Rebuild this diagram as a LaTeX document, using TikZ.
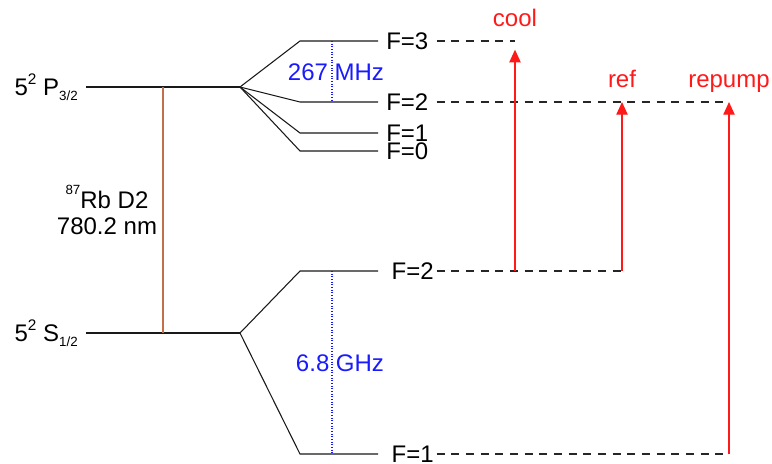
\documentclass[tikz,border=0pt]{standalone}
\usepackage{fontspec}
\setmainfont{Liberation Sans}
\usepackage{tikz}
\usetikzlibrary{arrows.meta,positioning}
\definecolor{LineBrown}{HTML}{C0704A}
\definecolor{PumpRed}{HTML}{FF1A1A}
\definecolor{SplitBlue}{HTML}{1A1AFF}
\newcommand{\tinyidx}[1]{{\fontsize{10}{10}\selectfont #1}}
\newcommand{\supidx}[1]{\raisebox{0.85ex}{\fontsize{11.5}{12}\selectfont #1}}

\begin{document}
\begin{tikzpicture}[x=0.75pt, y=-0.75pt,
  level/.style={black!90, line width=0.8pt},
  lbl/.style={font=\fontsize{18}{19}\selectfont, inner sep=1pt},
  flbl/.style={lbl, text depth=0pt},
  guide/.style={black!85, line width=0.8pt, dash pattern=on 6pt off 5pt},
  split/.style={SplitBlue, line width=0.8pt, dash pattern=on 0.8pt off 1.2pt},
  beam/.style={-{Triangle[length=9.5pt,width=8.5pt]}, PumpRed, line width=0.9pt},
  beamlbl/.style={lbl, text=PumpRed, text depth=0pt}]
  \useasboundingbox (0,0) rectangle (772,464);
  % fine structure levels
  \coordinate (p0) at (86,87);
  \coordinate (pfan) at (240,87);
  \coordinate (s0) at (86,333);
  \coordinate (sfan) at (240,333);
  \coordinate (ptop) at (163,87);
  \coordinate (sbot) at (163,333);
  \node[lbl, left=5pt of p0] (pname) {5\supidx{2} P\raisebox{-0.4ex}{\tinyidx{3/2}}};
  \node[lbl, left=5pt of s0] (sname) {5\supidx{2} S\raisebox{-0.4ex}{\tinyidx{1/2}}};
  \draw[level] (p0) -- (pfan);
  \draw[level] (s0) -- (sfan);
  \draw[LineBrown, line width=1pt] (ptop) -- (sbot);
  \node[lbl, align=center, font=\fontsize{18}{19}\selectfont] (dtwo) at (107,210)
    {\raisebox{1.1ex}{\tinyidx{87}}Rb D2\\780.2 nm};
  % hyperfine levels
  \coordinate (e3k) at (300,41);  \coordinate (e3) at (378,41);
  \coordinate (e2k) at (300,102); \coordinate (e2) at (378,102);
  \coordinate (e1k) at (300,133); \coordinate (e1) at (378,133);
  \coordinate (e0k) at (300,151); \coordinate (e0) at (378,151);
  \coordinate (g2k) at (300,271); \coordinate (g2) at (378,271);
  \coordinate (g1k) at (300,454); \coordinate (g1) at (378,454);
  \foreach \k in {e3,e2,e1,e0}
    \draw[level] (pfan) -- (\k k) -- (\k);
  \foreach \k in {g2,g1}
    \draw[level] (sfan) -- (\k k) -- (\k);
  \node[flbl, anchor=west, right=5pt of e3] (e3lbl) {F=3};
  \node[flbl, anchor=west, right=5pt of e2] (e2lbl) {F=2};
  \node[flbl, anchor=west, right=5pt of e1] (e1lbl) {F=1};
  \node[flbl, anchor=west, right=5pt of e0] (e0lbl) {F=0};
  \node[flbl, anchor=west, right=9pt of g2] (g2lbl) {F=2};
  \node[flbl, anchor=west, right=9pt of g1] (g1lbl) {F=1};
  % splittings
  \coordinate (mhzt) at (332,41);  \coordinate (mhzb) at (332,102);
  \coordinate (ghzt) at (332,271); \coordinate (ghzb) at (332,454);
  \draw[split] (mhzt) -- (mhzb);
  \draw[split] (ghzt) -- (ghzb);
  \node[lbl, text=SplitBlue] (mhz) at (336,72) {267 MHz};
  \node[lbl, text=SplitBlue] (ghz) at (340,363) {6.8 GHz};
  % laser transitions
  \coordinate (cooltop) at (515,41);  \coordinate (coolbot) at (515,271);
  \coordinate (reftop) at (622,102);  \coordinate (refbot) at (622,271);
  \coordinate (pumptop) at (729,102); \coordinate (pumpbot) at (729,454);
  \draw[guide, shorten <=5pt] (e3lbl.east) -- (cooltop);
  \draw[guide, shorten <=5pt] (e2lbl.east) -- (pumptop);
  \draw[guide, shorten <=1pt] (g2lbl.east) -- (refbot);
  \draw[guide, shorten <=1pt] (g1lbl.east) -- (pumpbot);
  \draw[beam, shorten >=6.5pt] (coolbot) -- (cooltop);
  \draw[beam] (refbot) -- (reftop);
  \draw[beam] (pumpbot) -- (pumptop);
  \node[beamlbl, above=9.5pt of cooltop] (cool) {cool};
  \node[beamlbl, above=9.5pt of reftop] (ref) {ref};
  \node[beamlbl, above=9.5pt of pumptop] (repump) {repump};
\end{tikzpicture}
\end{document}
